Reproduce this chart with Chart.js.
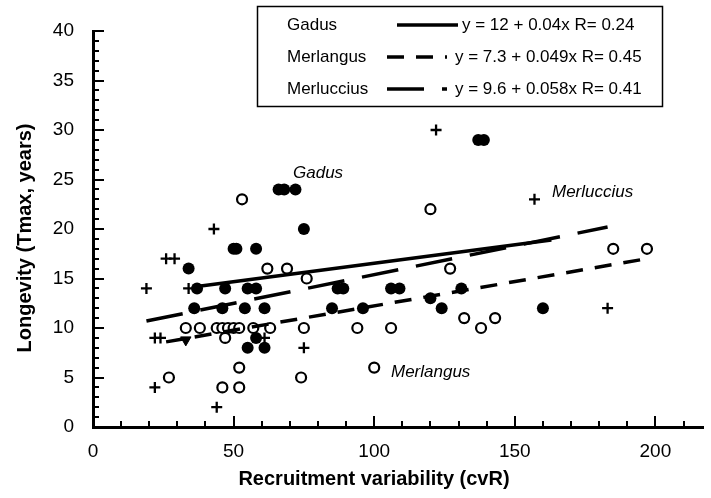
<!DOCTYPE html>
<html>
<head>
<meta charset="utf-8">
<script src="https://cdn.jsdelivr.net/npm/chart.js@4.4.0/dist/chart.umd.min.js"></script>
<style>
  html, body { margin: 0; padding: 0; background: #fff; }
  #wrap { width: 711px; height: 498px; position: relative; }
</style>
</head>
<body>
<div id="wrap"><canvas id="chart"></canvas></div>
<script>
// --- data ---
// Gadus (filled circles)
const gadusCvr  = [34, 37, 47, 55, 58, 36, 46, 54, 61, 58, 55, 61, 66, 68, 72, 75, 50, 51, 58, 87, 89, 106, 109, 131, 85, 96, 120, 124, 160, 137, 139];
const gadusTmax = [16, 14, 14, 14, 14, 12, 12, 12, 12,  9,  8,  8, 24, 24, 24, 20, 18, 18, 18, 14, 14,  14,  14,  14, 12, 12,  13,  12,  12,  29,  29];

// Merlangus (open circles)
const merlangusCvr  = [33, 38, 44, 46, 48, 50, 52, 57, 63, 75, 94, 106, 138, 47, 27, 52, 46, 52, 74, 53, 62, 69, 76, 127, 120, 132, 143, 185, 197, 100];
const merlangusTmax = [10, 10, 10, 10, 10, 10, 10, 10, 10, 10, 10,  10,  10,  9,  5,  6,  4,  4,  5, 23, 16, 16, 15,  16,  22,  11,  11,  18,  18,   6];

// Merluccius (crosses)
const merlucciusCvr  = [19, 22, 24, 26, 29, 34, 22, 43, 44, 61, 75, 122, 157, 183];
const merlucciusTmax = [14,  9,  9, 17, 17, 14,  4, 20,  2,  9,  8,  30,  23,  12];

// single down triangle
const otherCvr  = [33];
const otherTmax = [8.8];

// fitted lines (end points as drawn)
const gadusFitCvr = [37, 163];
const gadusFitTmax = [14.2, 18.9];
const merlangusFitCvr = [26, 197];
const merlangusFitTmax = [8.6, 17.0];
const merlucciusFitCvr = [19, 183];
const merlucciusFitTmax = [10.7, 20.2];

const speciesNames = ['Gadus', 'Merlangus', 'Merluccius'];
const fitLabels = ['y = 12 + 0.04x R= 0.24', 'y = 7.3 + 0.049x R= 0.45', 'y = 9.6 + 0.058x R= 0.41'];

const xTickLabels = [0, 50, 100, 150, 200];
const yTickLabels = [0, 5, 10, 15, 20, 25, 30, 35, 40];
const xMax = 217, yMax = 40;
const xMinorStep = 10, yMinorStep = 1;

const FONT = '"Liberation Sans", Arial, sans-serif';
const merlangusDash = [17, 12];
const merlucciusDash = [37, 18];

function zip(xs, ys) {
  return xs.map((v, i) => ({ x: v, y: ys[i] }));
}

// inward ticks, legend box, annotations and axis titles
const decorPlugin = {
  id: 'decor',
  afterDraw(chart) {
    const { ctx, chartArea } = chart;
    const x = chart.scales.x, y = chart.scales.y;
    ctx.save();
    ctx.strokeStyle = '#000';
    ctx.lineWidth = 2;
    ctx.beginPath();
    for (let v = xMinorStep; v <= xMax; v += xMinorStep) {
      const px = Math.round(x.getPixelForValue(v));
      const len = xTickLabels.includes(v) ? 11 : 6;
      ctx.moveTo(px, chartArea.bottom);
      ctx.lineTo(px, chartArea.bottom - len);
    }
    for (let v = yMinorStep; v <= yMax; v += yMinorStep) {
      const py = Math.round(y.getPixelForValue(v));
      const len = yTickLabels.includes(v) ? 11 : 6;
      ctx.moveTo(chartArea.left, py);
      ctx.lineTo(chartArea.left + len, py);
    }
    ctx.stroke();

    // legend box
    ctx.lineWidth = 1.5;
    ctx.strokeRect(257.5, 6.5, 405, 100);
    const rows = [25, 57, 89];
    const dashes = [[], merlangusDash, merlucciusDash];
    const lineFrom = [397, 387, 387];
    const lineTo = [458, 447, 447];
    const textX = [462, 455, 455];
    ctx.fillStyle = '#000';
    ctx.textBaseline = 'middle';
    ctx.font = '17px ' + FONT;
    rows.forEach((ry, i) => {
      ctx.textAlign = 'left';
      ctx.fillText(speciesNames[i], 287, ry);
      ctx.fillText(fitLabels[i], textX[i], ry);
      ctx.beginPath();
      ctx.lineWidth = 3.5;
      ctx.setLineDash(dashes[i]);
      ctx.moveTo(lineFrom[i], ry);
      ctx.lineTo(lineTo[i], ry);
      ctx.stroke();
    });
    ctx.setLineDash([]);

    // species annotations
    ctx.font = 'italic 17px ' + FONT;
    ctx.fillText('Gadus', 293, 173);
    ctx.fillText('Merluccius', 552, 192);
    ctx.fillText('Merlangus', 391, 372);

    // axis titles
    ctx.font = 'bold 20px ' + FONT;
    ctx.textAlign = 'center';
    ctx.fillText('Recruitment variability (cvR)', 374, 479);
    ctx.translate(25, 238);
    ctx.rotate(-Math.PI / 2);
    ctx.fillText('Longevity (Tmax, years)', 0, 0);
    ctx.restore();
  }
};

const lineStyle = {
  type: 'scatter',
  showLine: true,
  pointRadius: 0,
  borderColor: '#000',
  borderWidth: 3.5,
  borderCapStyle: 'butt',
  fill: false
};

new Chart(document.getElementById('chart'), {
  type: 'scatter',
  data: {
    datasets: [
      Object.assign({ label: 'Gadus fit', data: zip(gadusFitCvr, gadusFitTmax) }, lineStyle),
      Object.assign({ label: 'Merlangus fit', data: zip(merlangusFitCvr, merlangusFitTmax), borderDash: merlangusDash }, lineStyle),
      Object.assign({ label: 'Merluccius fit', data: zip(merlucciusFitCvr, merlucciusFitTmax), borderDash: merlucciusDash }, lineStyle),
      {
        label: 'Gadus',
        data: zip(gadusCvr, gadusTmax),
        pointStyle: 'circle',
        pointRadius: 6,
        backgroundColor: '#000',
        borderWidth: 0
      },
      {
        label: 'Merlangus',
        data: zip(merlangusCvr, merlangusTmax),
        pointStyle: 'circle',
        pointRadius: 5,
        backgroundColor: '#fff',
        borderColor: '#000',
        borderWidth: 2.2
      },
      {
        label: 'Merluccius',
        data: zip(merlucciusCvr, merlucciusTmax),
        pointStyle: 'cross',
        pointRadius: 5.5,
        borderColor: '#000',
        borderWidth: 2.3
      },
      {
        label: 'other',
        data: zip(otherCvr, otherTmax),
        pointStyle: 'triangle',
        rotation: 180,
        pointRadius: 6,
        backgroundColor: '#000',
        borderColor: '#000',
        borderWidth: 1
      }
    ]
  },
  options: {
    responsive: true,
    maintainAspectRatio: false,
    animation: false,
    layout: { padding: { top: 31, right: 0, left: 0, bottom: 0 } },
    plugins: {
      legend: { display: false },
      tooltip: { enabled: false }
    },
    scales: {
      x: {
        type: 'linear',
        min: 0,
        max: xMax,
        grid: { display: false, drawTicks: false },
        border: { display: true, color: '#000', width: 3 },
        ticks: {
          autoSkip: false,
          padding: 13,
          color: '#000',
          maxRotation: 0,
          font: { family: FONT, size: 19 }
        },
        afterBuildTicks(scale) {
          scale.ticks = xTickLabels.map(v => ({ value: v }));
        },
        afterFit(scale) { scale.height = 71; }
      },
      y: {
        type: 'linear',
        min: 0,
        max: yMax,
        grid: { display: false, drawTicks: false },
        border: { display: true, color: '#000', width: 3 },
        ticks: {
          autoSkip: false,
          padding: 19,
          color: '#000',
          font: { family: FONT, size: 19 }
        },
        afterBuildTicks(scale) {
          scale.ticks = yTickLabels.map(v => ({ value: v }));
        },
        afterFit(scale) { scale.width = 93; }
      }
    }
  },
  plugins: [decorPlugin]
});
</script>
</body>
</html>
